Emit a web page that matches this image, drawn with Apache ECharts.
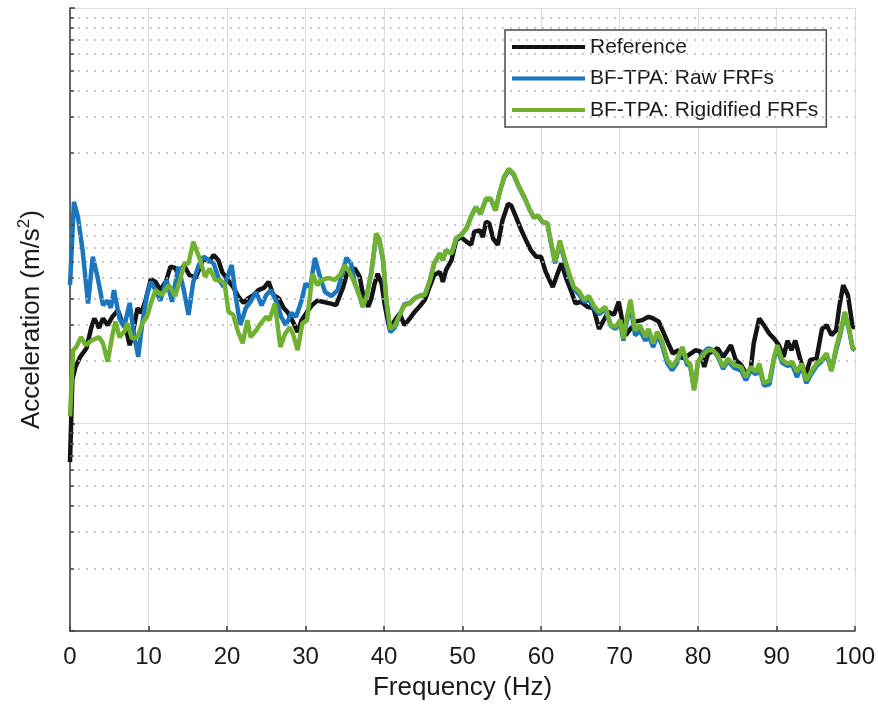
<!DOCTYPE html>
<html><head><meta charset="utf-8">
<script src="https://cdn.jsdelivr.net/npm/echarts@6/dist/echarts.min.js"></script>
<style>html,body{margin:0;padding:0;background:#fff}#c{width:878px;height:713px}</style>
</head><body><div id="c"></div>
<script>
// Frequency (Hz), acceleration (arbitrary log units, axis spans 3 decades)
const seriesNames = ['Reference', 'BF-TPA: Raw FRFs', 'BF-TPA: Rigidified FRFs'];
const xTickLabels = ['0','10','20','30','40','50','60','70','80','90','100'];

const referenceData = [
 [0,6.5],[0.3,16.2],[0.7,18.7],[1.3,20.9],[2.1,23],[2.7,28.8],[3.1,32],[3.7,28.8],[4.2,32],[4.8,29.7],
 [5.4,32.6],[6.1,35],[6.7,30.2],[7.1,28.8],[7.6,23.8],[8.0,27.2],[8.6,35.9],[9.1,34],[9.7,40],[10.3,49.5],
 [10.9,48],[11.5,43.8],[12.2,48],[12.8,56.8],[13.4,56],[13.9,50.6],[14.5,57.8],[15.2,51.8],[16.0,50],[16.4,54.7],
 [17.0,62.5],[17.7,60],[18.3,64.6],[18.9,61],[19.4,53.4],[20.1,49],[20.8,45.3],[21.4,41],[22.1,38],[22.7,40],
 [23.4,41.5],[24.0,43.8],[24.7,44.9],[25.3,48],[25.9,41.5],[26.6,40],[27.2,36],[27.8,34],[28.5,30.3],[29.0,27.5],
 [29.5,31.4],[30.2,34.4],[30.8,37],[31.5,39],[32.2,38.5],[32.8,38],[33.1,37.8],[33.9,37.1],[34.8,45.3],[35.4,54.7],
 [36.3,55.6],[36.9,50.8],[37.3,42.2],[38.0,36.4],[38.4,40],[38.8,47],[39.2,52.5],[39.7,47],[40.1,37.1],[40.7,28.5],
 [41.4,31.4],[42.0,33.8],[42.6,29.7],[43.3,32],[43.9,34.4],[44.5,36.4],[45.2,39.3],[45.8,45.3],[46.4,51.8],[47.1,53.6],
 [47.5,48],[47.9,54.7],[48.6,61],[49.2,76.1],[49.8,79],[50.5,75],[51.1,72.4],[51.5,83.7],[52.2,85],[52.6,79],
 [53.0,93.5],[53.4,91.9],[53.9,77.6],[54.5,72.4],[55.1,95],[55.8,114],[56.2,112],[56.8,99],[57.5,85],[58.1,76],
 [58.7,68.3],[59.4,63.4],[60.0,63.4],[60.6,53.6],[61.5,45.3],[62.1,52.5],[62.6,58.9],[63.2,50],[63.8,43.8],[64.4,37.8],
 [65.1,38.5],[65.9,36.4],[66.7,35.8],[67.4,28.5],[68.0,31.4],[68.6,34.4],[69.3,33.3],[69.9,38.5],[70.3,32],[70.8,26.6],
 [71.4,28.5],[72.0,30.9],[72.9,31.4],[73.7,32.6],[74.3,32],[75.0,30.9],[75.4,28.5],[76.2,24.3],[76.8,21.7],[77.5,22.5],
 [78.1,20.5],[78.8,21.3],[79.7,22.5],[80.3,22.2],[80.8,18.7],[81.3,21.7],[81.9,22.2],[82.5,23],[83.2,20.9],[83.8,22.5],
 [84.2,23.8],[84.8,20.2],[85.5,19.1],[86.1,17.4],[86.7,17.9],[87.1,24.3],[87.8,32],[88.4,29.7],[89.1,27],[89.7,25.6],
 [90.3,23.8],[90.9,20.9],[91.4,25],[91.9,22.5],[92.4,25],[93.0,20.5],[93.7,17],[94.3,20.2],[95.1,20.5],[95.8,28.5],
 [96.4,29.7],[97.0,26.6],[97.6,28],[98.0,36.4],[98.5,46.3],[99.1,41.5],[99.7,29.1],[100,29]
];

const rawData = [
 [0,46.3],[0.5,116.7],[1.0,99],[1.6,68.3],[2.3,37.8],[2.9,63.4],[3.5,50.8],[4.2,37.1],[4.8,39],[5.2,36],
 [5.6,43.8],[6.3,32],[6.9,29.1],[7.6,38],[8.2,26],[8.7,20.9],[9.2,30.3],[9.8,41.5],[10.3,48],[10.9,43.8],
 [11.5,39],[12.3,49],[13.0,38.5],[13.8,56.8],[14.5,43.8],[15.1,33.3],[15.7,48],[16.4,57.8],[17.0,63.4],[17.7,61],
 [18.3,58.9],[19.0,49],[19.6,45.3],[20.2,52.5],[20.6,57.8],[21.1,41],[21.7,29.7],[22.4,36],[23.0,38.5],[23.7,42.9],
 [24.4,37],[25.0,41.5],[25.6,43.8],[26.3,38.5],[26.9,32.6],[27.5,29.7],[28.2,34],[28.8,32.6],[29.5,39],[30.0,47],
 [30.6,45.3],[31.2,62.6],[31.9,50],[32.5,42.9],[33.3,41],[34.1,43.8],[35.2,62.6],[35.8,58.9],[36.3,47],[36.9,41],
 [37.3,36.4],[37.8,41],[38.4,53.6],[39.0,80],[39.4,76],[39.9,60],[40.3,38.5],[40.8,27.5],[41.4,29],[42.0,33.3],
 [42.6,37.5],[43.3,38],[43.9,40],[44.5,41],[45.2,41.5],[45.8,48],[46.4,58.9],[47.1,65.7],[47.5,61],[47.9,68.3],
 [48.6,65.7],[49.2,77.6],[49.8,80.6],[50.5,86.7],[51.1,99],[51.7,110],[52.3,102],[53.0,120],[53.6,120],[54.2,106],
 [54.7,128],[55.3,152],[55.9,166],[56.5,158],[57.2,137],[57.9,122],[58.5,108],[59.1,98],[59.6,100],[60.2,93],
 [60.8,92],[61.3,73],[61.8,59],[62.4,74],[63.0,61],[63.6,51],[64.2,44.5],[64.9,41.5],[65.5,38.5],[66.1,39.5],
 [66.7,36],[67.4,33.5],[68.2,35.5],[68.9,29.5],[69.5,28.5],[70.1,30.5],[70.5,25],[71.0,32],[71.4,37],[72.0,26.5],
 [72.6,28],[73.3,25],[73.7,26.5],[74.3,23.3],[74.8,26.5],[75.4,24],[76.1,19.4],[76.7,18],[77.3,19.4],[78.0,22.8],
 [78.6,19.2],[79.0,18.9],[79.5,14.6],[80.0,19.6],[80.6,21.7],[81.3,23],[81.9,22.5],[82.5,21],[83.2,18.3],[83.8,20],
 [84.6,18.5],[85.5,18],[86.1,16.1],[86.7,18],[87.4,17.2],[87.8,18.8],[88.4,15.2],[89.1,15.4],[89.7,20.5],[90.1,23],
 [90.7,19.6],[91.4,18.9],[92.0,19.2],[92.6,16.7],[93.2,19],[93.8,15.6],[94.4,17.2],[95.1,18.9],[95.7,19.8],[96.4,21.3],
 [97.0,17.9],[97.6,22.5],[98.3,28.5],[98.7,34],[99.3,27.5],[99.7,23],[100,22.5]
];

const rigidifiedData = [
 [0,10.8],[0.4,22.5],[0.8,23.3],[1.4,26],[2.0,23.8],[2.7,25],[3.7,26],[4.2,24.3],[4.8,19.8],[5.4,26.6],
 [5.8,30.9],[6.3,26],[6.9,27.6],[7.3,30.3],[7.9,25.6],[8.6,26],[9.2,30.3],[9.8,32.6],[10.3,37.8],[10.9,43.8],
 [11.7,41.5],[12.6,46.3],[13.4,41],[14.0,49],[14.6,58.8],[15.1,58.8],[15.7,74.9],[16.1,68.3],[16.6,61],[17.2,50.8],
 [17.8,55.6],[18.5,49],[19.1,49],[19.7,47],[20.2,34.4],[20.8,33.3],[21.4,27.6],[22.0,24.3],[22.6,31.4],[23.0,26],
 [23.7,28],[24.3,30.3],[25.0,32.6],[25.4,31.4],[26.1,37.8],[26.8,23.3],[27.4,27],[28.0,29],[28.4,27],[29.0,22.5],
 [29.6,30.3],[30.2,31.4],[30.9,52.5],[31.5,46.3],[32.1,49],[32.8,50],[33.1,50],[33.7,49],[34.4,51.8],[35.0,57.8],
 [35.6,53.6],[36.3,47],[36.9,41],[37.3,36.4],[37.8,41],[38.4,53.6],[39.0,82],[39.4,77.6],[39.9,61],[40.3,39.3],
 [40.8,28.5],[41.4,29.7],[42.0,33.3],[42.6,37.1],[43.3,37.8],[43.9,40],[44.5,41],[45.2,41.5],[45.8,48],[46.4,58.9],
 [47.1,65.7],[47.5,61],[47.9,68.3],[48.6,65.7],[49.2,77.6],[49.8,80.6],[50.5,86.7],[51.1,99],[51.7,110],[52.3,102],
 [53.0,121],[53.6,121],[54.2,106],[54.7,128],[55.3,154],[55.9,168],[56.5,160],[57.2,138],[57.9,123],[58.5,108],
 [59.1,97.4],[59.6,100.5],[60.2,93.5],[60.8,91.9],[61.3,73.7],[61.8,60],[62.4,76],[63.0,62.6],[63.6,52.5],[64.2,45.3],
 [64.9,43],[65.5,39.3],[66.1,41],[66.7,37.1],[67.4,34.4],[68.2,36.4],[68.9,29.7],[69.5,29.1],[70.1,31.4],[70.5,25.6],
 [71.0,33.3],[71.4,39.3],[72.0,28],[72.6,29.7],[73.3,26],[73.7,28.5],[74.3,24.3],[74.8,27.6],[75.4,25],[76.1,20.2],
 [76.7,18.7],[77.3,20.2],[78.0,23.3],[78.6,19.8],[79.0,19.4],[79.5,14.4],[80.0,19.8],[80.6,21.3],[81.3,22.5],[81.9,22.5],
 [82.5,21.3],[83.2,18.7],[83.8,20.5],[84.6,19.1],[85.5,18.7],[86.1,16.7],[86.7,18.7],[87.4,17.7],[87.8,19.4],[88.4,15.6],
 [89.1,16.1],[89.7,20.9],[90.1,23.8],[90.7,20.2],[91.4,19.4],[92.0,19.8],[92.6,17.7],[93.2,19.4],[93.8,16.1],[94.4,17.7],
 [95.1,19.4],[95.7,20.2],[96.4,21.7],[97.0,17.9],[97.6,23.3],[98.3,29.1],[98.7,34.4],[99.3,28],[99.7,23],[100,23]
];

const yDecades = [1, 10, 100];
const minorMultipliers = [2,3,4,5,6,7,8,9];

const FONT = "'Liberation Sans', Arial, Helvetica, sans-serif";
const AXIS_COLOR = '#3c3c3c';

const minorValues = [];
yDecades.forEach(d => minorMultipliers.forEach(m => minorValues.push(d * m)));

const gridMarks = minorValues.map(v => ({ yAxis: v }));
const tickMarks = minorValues.map(v => [
  { coord: [0, v], lineStyle: { color: AXIS_COLOR, width: 1.5, type: 'solid' } },
  { coord: [0.5, v] }
]);

const chart = echarts.init(document.getElementById('c'), null, { renderer: 'canvas' });
chart.setOption({
  animation: false,
  backgroundColor: '#ffffff',
  textStyle: { fontFamily: FONT },
  grid: { left: 70, right: 22, top: 8, bottom: 82 },
  legend: {
    data: seriesNames,
    orient: 'vertical',
    left: 505, top: 30,
    padding: [5, 8, 5, 7],
    itemWidth: 73, itemHeight: 4, itemGap: 7.5,
    icon: 'rect',
    backgroundColor: '#ffffff',
    borderColor: '#4a4a4a', borderWidth: 1.5, borderRadius: 0,
    textStyle: { fontSize: 21, lineHeight: 24, color: '#1a1a1a', fontFamily: FONT },
    selectedMode: false
  },
  xAxis: {
    type: 'value', min: 0, max: 100, interval: 10,
    name: 'Frequency (Hz)', nameLocation: 'middle', nameGap: 44,
    nameTextStyle: { fontSize: 26, color: '#1a1a1a', fontFamily: FONT },
    axisLine: { show: true, onZero: false, lineStyle: { color: AXIS_COLOR, width: 1.5 } },
    axisTick: { show: true, inside: true, length: 5, lineStyle: { color: AXIS_COLOR, width: 1.5 } },
    axisLabel: { fontSize: 24, color: '#1a1a1a', margin: 14, fontFamily: FONT,
      formatter: (v) => xTickLabels[Math.round(v / 10)] },
    splitLine: { show: true, lineStyle: { color: '#dcdcdc', width: 1 } }
  },
  yAxis: {
    type: 'log', logBase: 10, min: 1, max: 1000,
    name: 'Acceleration (m/s{sup|2})', nameLocation: 'middle', nameGap: 22,
    nameTextStyle: { fontSize: 26, color: '#1a1a1a', fontFamily: FONT, lineHeight: 32,
      rich: { sup: { fontSize: 17, verticalAlign: 'top', lineHeight: 32, fontFamily: FONT, color: '#1a1a1a' } } },
    axisLine: { show: true, onZero: false, lineStyle: { color: AXIS_COLOR, width: 1.5 } },
    axisTick: { show: true, inside: true, length: 5, lineStyle: { color: AXIS_COLOR, width: 1.5 } },
    axisLabel: { show: false },
    splitLine: { show: true, lineStyle: { color: '#dcdcdc', width: 1 } }
  },
  series: [
    {
      name: '__grid', type: 'line', data: [], z: 1, silent: true,
      markLine: {
        silent: true, symbol: ['none', 'none'], animation: false,
        label: { show: false },
        lineStyle: { color: '#b8b8b8', width: 1.5, type: [2, 6] },
        data: gridMarks.concat(tickMarks)
      }
    },
    { name: seriesNames[0], type: 'line', data: referenceData, z: 3, showSymbol: false, symbol: 'none',
      lineStyle: { color: '#141414', width: 4.5 }, itemStyle: { color: '#141414' } },
    { name: seriesNames[1], type: 'line', data: rawData, z: 4, showSymbol: false, symbol: 'none',
      lineStyle: { color: '#1b76be', width: 4.5 }, itemStyle: { color: '#1b76be' } },
    { name: seriesNames[2], type: 'line', data: rigidifiedData, z: 5, showSymbol: false, symbol: 'none',
      lineStyle: { color: '#70b22f', width: 4.5 }, itemStyle: { color: '#70b22f' } }
  ]
});
</script>
</body></html>
